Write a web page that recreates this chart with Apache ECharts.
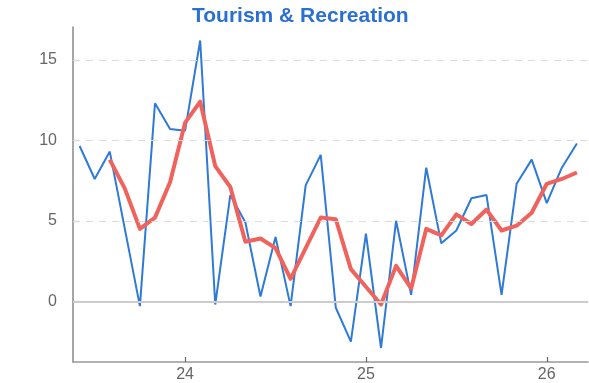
<!DOCTYPE html>
<html>
<head>
<meta charset="utf-8">
<script src="https://cdn.jsdelivr.net/npm/echarts@6/dist/echarts.min.js"></script>
<style>html,body{margin:0;padding:0;background:#fff;}#c{width:589px;height:383px;}</style>
</head>
<body>
<div id="c"></div>
<script>
// Months (YYYY-MM) for the monthly series
const months = ['2023-06','2023-07','2023-08','2023-09','2023-10','2023-11','2023-12',
  '2024-01','2024-02','2024-03','2024-04','2024-05','2024-06','2024-07','2024-08','2024-09','2024-10','2024-11','2024-12',
  '2025-01','2025-02','2025-03','2025-04','2025-05','2025-06','2025-07','2025-08','2025-09','2025-10','2025-11','2025-12',
  '2026-01','2026-02','2026-03'];
// Monthly values (blue)
const monthly = [9.65,7.6,9.3,4.5,-0.3,12.3,10.7,
  10.6,16.2,-0.2,6.6,4.9,0.3,4.0,-0.3,7.2,9.1,-0.4,-2.5,
  4.2,-2.9,5.0,0.4,8.3,3.6,4.4,6.4,6.6,0.4,7.3,8.8,
  6.1,8.3,9.8];
// Smoothed values (red), starting at 2023-08
const smoothMonths = months.slice(2);
const smoothed = [8.8,7.0,4.5,5.2,7.4,
  11.1,12.4,8.4,7.1,3.7,3.9,3.3,1.4,3.3,5.2,5.1,2.0,
  0.9,-0.2,2.2,0.8,4.5,4.1,5.4,4.8,5.7,4.4,4.7,5.5,
  7.3,7.6,8.0];
const yTicks = [0,5,10,15];
const xTicks = [24,25,26];
const titleText = 'Tourism & Recreation';

function toYear(m){ const [y,mo]=m.split('-').map(Number); return (y-2000)+(mo-1)/12; }
const blueData = months.map((m,i)=>[toYear(m), monthly[i]]);
const redData = smoothMonths.map((m,i)=>[toYear(m), smoothed[i]]);

const chart = echarts.init(document.getElementById('c'), null, {renderer:'canvas'});
const font = 'Liberation Sans, Arial, sans-serif';
chart.setOption({
  animation:false,
  title:{text:titleText,left:187,top:1,
    textStyle:{fontSize:21,fontWeight:'bold',color:'#2a70d4',fontFamily:font}},
  grid:{left:73,right:1,top:27,bottom:19,containLabel:false},
  xAxis:{type:'value',min:23.38,max:26.228,
    axisLine:{show:true,onZero:false,lineStyle:{color:'#999',width:1.5}},
    axisTick:{show:true,inside:true,length:5,customValues:xTicks,lineStyle:{color:'#666',width:1.2}},
    axisLabel:{customValues:xTicks,margin:5,
      fontSize:16,color:'#666',fontFamily:font,formatter:v=>String(Math.round(v))},
    splitLine:{show:false}},
  yAxis:{type:'value',min:-3.77,max:17.04,
    axisLine:{show:true,onZero:false,lineStyle:{color:'#888',width:1.5}},
    axisTick:{show:true,inside:true,length:6,customValues:yTicks,lineStyle:{color:'#888',width:1.2}},
    axisLabel:{customValues:yTicks,margin:16,
      fontSize:16,color:'#666',fontFamily:font,formatter:v=>String(Math.round(v))},
    splitLine:{show:false}},
  series:[
    {type:'line',data:[],z:1,silent:true,
      markLine:{silent:true,symbol:'none',label:{show:false},
        data:[
          {yAxis:5,lineStyle:{type:[7,6],color:'#ddd',width:1.2}},
          {yAxis:10,lineStyle:{type:[7,6],color:'#ddd',width:1.2}},
          {yAxis:15,lineStyle:{type:[7,6],color:'#ddd',width:1.2}},
          {yAxis:0,lineStyle:{type:'solid',color:'#ccc',width:2}}
        ]}},
    {type:'line',data:blueData,symbol:'none',z:3,
      lineStyle:{color:'#2e7ad6',width:2}},
    {type:'line',data:redData,symbol:'none',z:4,
      lineStyle:{color:'#f0625c',width:4,join:'round'}}
  ]
});
</script>
</body>
</html>
